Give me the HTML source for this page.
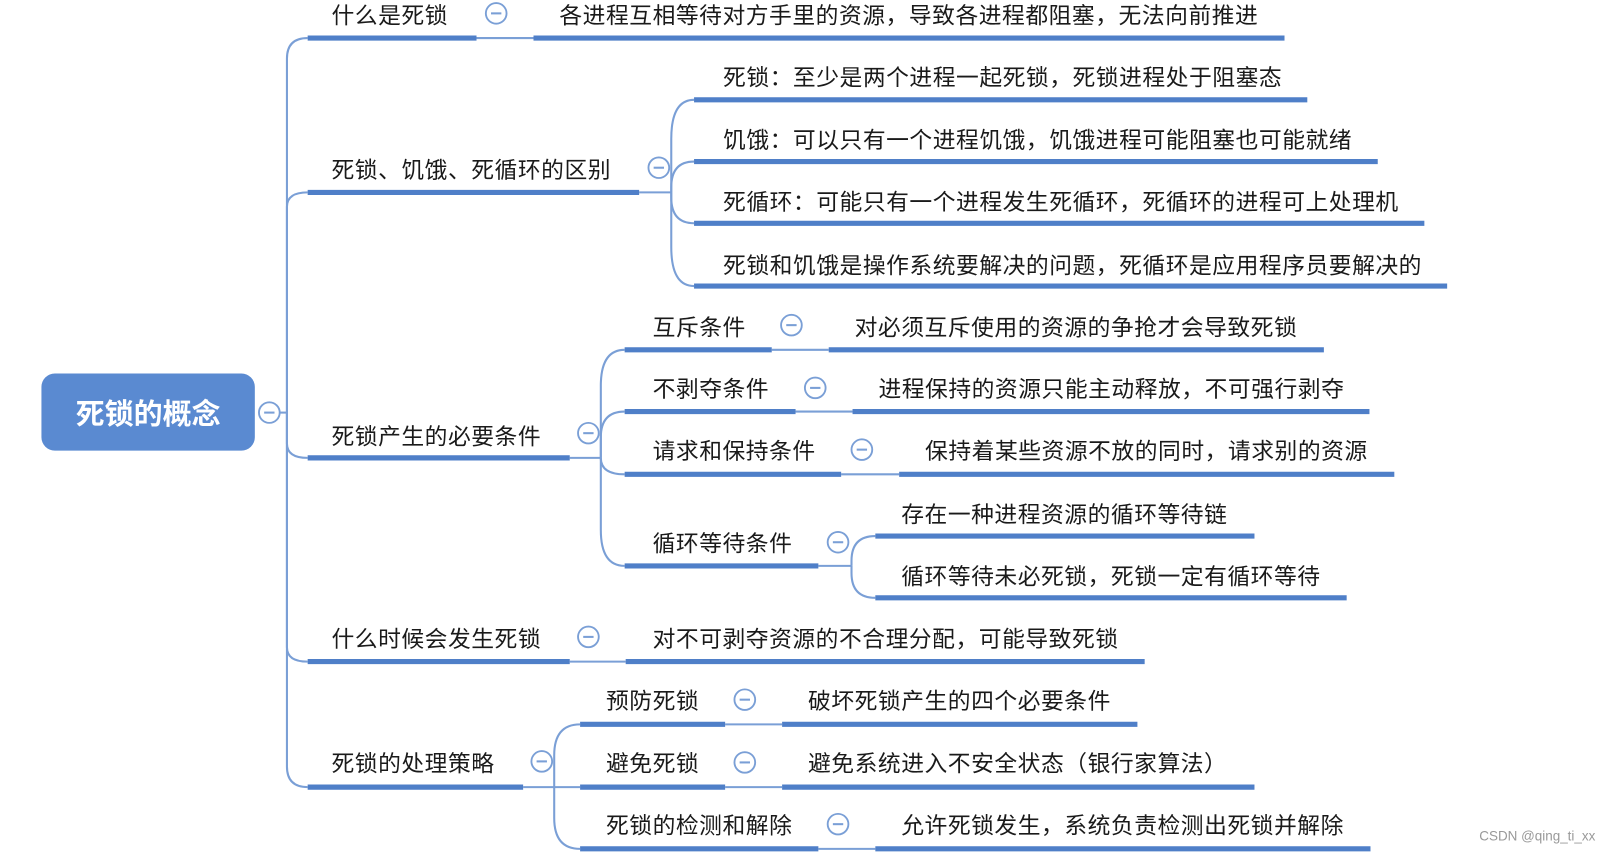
<!DOCTYPE html>
<html><head><meta charset="utf-8"><style>
html,body{margin:0;padding:0;background:#fff;width:1616px;height:854px;overflow:hidden}
svg{display:block}
text{font-family:"Liberation Sans","Noto Sans CJK SC",sans-serif;font-size:22px;letter-spacing:0.5px;fill:#1a1a1a}
.b{stroke:#4f7fc8;stroke-width:5;fill:none}
.c{stroke:#7a9fd6;stroke-width:2;fill:none}
.o{fill:#fff;stroke:#7a9fd6;stroke-width:1.8}
.m{stroke:#7a9fd6;stroke-width:2}
</style></head><body>
<svg width="1616" height="854" viewBox="0 0 1560 830" preserveAspectRatio="none">
<g class="c">
<path d="M269 401 H277"/>
<path d="M277 401 V57 Q277 37 297 37"/>
<path d="M277 401 V201 Q277 187 297 187"/>
<path d="M277 401 V431 Q277 445 297 445"/>
<path d="M277 401 V629 Q277 643 297 643"/>
<path d="M277 401 V745 Q277 765 297 765"/>
<path d="M460 37 H515"/>
<path d="M617 187 H648"/>
<path d="M648 187 V135 Q648 97 670 97"/>
<path d="M648 187 V182 Q648 157 670 157"/>
<path d="M648 187 V192 Q648 217 670 217"/>
<path d="M648 187 V240 Q648 278 670 278"/>
<path d="M550 445 H580"/>
<path d="M580 445 V375 Q580 340 603 340"/>
<path d="M580 445 V425 Q580 400 603 400"/>
<path d="M580 445 V445 Q580 461 603 461"/>
<path d="M580 445 V515 Q580 550 603 550"/>
<path d="M745 340 H800"/><path d="M768 400 H823"/><path d="M812 461 H868"/>
<path d="M790 550 H822"/>
<path d="M822 550 V545 Q822 521 845 521"/>
<path d="M822 550 V557 Q822 581 845 581"/>
<path d="M550 643 H604"/>
<path d="M505 765 H535"/>
<path d="M535 765 V734 Q535 704 560 704"/>
<path d="M535 765 H560"/>
<path d="M535 765 V795 Q535 825 560 825"/>
<path d="M700 704 H755"/><path d="M700 765 H755"/><path d="M790 825 H845"/>
</g>
<g class="b">
<path d="M297 37 H460"/><path d="M515 37 H1240"/>
<path d="M297 187 H617"/>
<path d="M670 97 H1262"/><path d="M670 157 H1330"/><path d="M670 217 H1375"/><path d="M670 278 H1397"/>
<path d="M297 445 H550"/>
<path d="M603 340 H745"/><path d="M800 340 H1278"/>
<path d="M603 400 H768"/><path d="M823 400 H1322"/>
<path d="M603 461 H812"/><path d="M868 461 H1346"/>
<path d="M603 550 H790"/><path d="M845 521 H1211"/><path d="M845 581 H1300"/>
<path d="M297 643 H550"/><path d="M604 643 H1105"/>
<path d="M297 765 H505"/>
<path d="M560 704 H700"/><path d="M755 704 H1098"/>
<path d="M560 765 H700"/><path d="M755 765 H1211"/>
<path d="M560 825 H790"/><path d="M845 825 H1323"/>
</g>
<rect x="40" y="363" width="206" height="75" rx="13" fill="#5a8ad1"/>
<text x="143" y="412" text-anchor="middle" style="fill:#fff;font-size:28px;font-weight:bold;letter-spacing:0">死锁的概念</text>
<g>
<circle class="o" cx="260" cy="401" r="10"/><line class="m" x1="255" y1="401" x2="265" y2="401"/>
<circle class="o" cx="479" cy="13" r="10"/><line class="m" x1="474" y1="13" x2="484" y2="13"/>
<circle class="o" cx="636" cy="163" r="10"/><line class="m" x1="631" y1="163" x2="641" y2="163"/>
<circle class="o" cx="568" cy="421" r="10"/><line class="m" x1="563" y1="421" x2="573" y2="421"/>
<circle class="o" cx="764" cy="316" r="10"/><line class="m" x1="759" y1="316" x2="769" y2="316"/>
<circle class="o" cx="787" cy="377" r="10"/><line class="m" x1="782" y1="377" x2="792" y2="377"/>
<circle class="o" cx="832" cy="437" r="10"/><line class="m" x1="827" y1="437" x2="837" y2="437"/>
<circle class="o" cx="809" cy="527" r="10"/><line class="m" x1="804" y1="527" x2="814" y2="527"/>
<circle class="o" cx="568" cy="619" r="10"/><line class="m" x1="563" y1="619" x2="573" y2="619"/>
<circle class="o" cx="523" cy="740" r="10"/><line class="m" x1="518" y1="740" x2="528" y2="740"/>
<circle class="o" cx="719" cy="680" r="10"/><line class="m" x1="714" y1="680" x2="724" y2="680"/>
<circle class="o" cx="719" cy="741" r="10"/><line class="m" x1="714" y1="741" x2="724" y2="741"/>
<circle class="o" cx="809" cy="801" r="10"/><line class="m" x1="804" y1="801" x2="814" y2="801"/>
</g>
<text x="320" y="23">什么是死锁</text>
<text x="540" y="23">各进程互相等待对方手里的资源，导致各进程都阻塞，无法向前推进</text>
<text x="320" y="173">死锁、饥饿、死循环的区别</text>
<text x="698" y="83">死锁：至少是两个进程一起死锁，死锁进程处于阻塞态</text>
<text x="698" y="144">饥饿：可以只有一个进程饥饿，饥饿进程可能阻塞也可能就绪</text>
<text x="698" y="204">死循环：可能只有一个进程发生死循环，死循环的进程可上处理机</text>
<text x="698" y="266">死锁和饥饿是操作系统要解决的问题，死循环是应用程序员要解决的</text>
<text x="320" y="432">死锁产生的必要条件</text>
<text x="630" y="326">互斥条件</text>
<text x="825" y="326">对必须互斥使用的资源的争抢才会导致死锁</text>
<text x="630" y="386">不剥夺条件</text>
<text x="848" y="386">进程保持的资源只能主动释放，不可强行剥夺</text>
<text x="630" y="446">请求和保持条件</text>
<text x="893" y="446">保持着某些资源不放的同时，请求别的资源</text>
<text x="630" y="536">循环等待条件</text>
<text x="870" y="508">存在一种进程资源的循环等待链</text>
<text x="870" y="568">循环等待未必死锁，死锁一定有循环等待</text>
<text x="320" y="629">什么时候会发生死锁</text>
<text x="630" y="629">对不可剥夺资源的不合理分配，可能导致死锁</text>
<text x="320" y="750">死锁的处理策略</text>
<text x="585" y="689">预防死锁</text>
<text x="780" y="689">破坏死锁产生的四个必要条件</text>
<text x="585" y="750">避免死锁</text>
<text x="780" y="750">避免系统进入不安全状态（银行家算法）</text>
<text x="585" y="810">死锁的检测和解除</text>
<text x="870" y="810">允许死锁发生，系统负责检测出死锁并解除</text>
<text x="1428" y="817" style="font-size:13px;fill:#999;letter-spacing:0">CSDN @qing_ti_xx</text>
</svg>
</body></html>
